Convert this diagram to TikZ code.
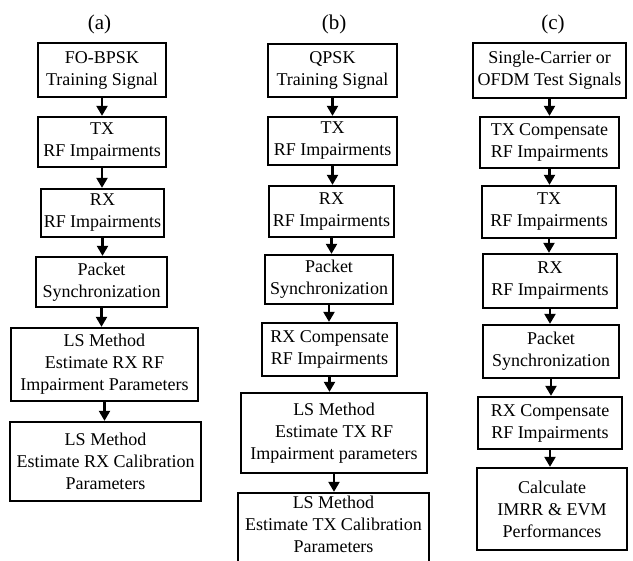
\documentclass[tikz,border=0pt]{standalone}
\usepackage{fontspec}
\setmainfont{Liberation Serif}
\usetikzlibrary{arrows.meta}
\begin{document}
\begin{tikzpicture}[x=1pt,y=-1pt,
  box/.style={draw, line width=2.3pt, align=center, inner sep=0pt, font=\fontsize{18}{22}\selectfont},
  txt/.style={align=center, inner sep=0pt, font=\fontsize{18}{22}\selectfont},
  arr/.style={line width=2.2pt, -{Triangle[width=11pt,length=10pt]}},
  lab/.style={font=\fontsize{21}{24}\selectfont}]
\clip (0,0) rectangle (633,561);
\fill[white] (0,0) rectangle (633,561);
% labels
\node[lab] (la) at (99.5,24) {(a)};
\node[lab] (lb) at (334,24) {(b)};
\node[lab] (lc) at (553,24) {(c)};
% column (a)
\node[box, minimum width=128pt, minimum height=54pt] (a1) at (102,70) {FO-BPSK\\Training Signal};
\node[box, minimum width=128pt, minimum height=50pt] (a2) at (102,142) {TX\\RF Impairments};
\node[box, minimum width=123pt, minimum height=48pt] (a3) at (102.5,213) {RX\\RF Impairments};
\node[box, minimum width=131pt, minimum height=50pt] (a4) at (101.5,282) {Packet\\Synchronization};
\node[box, minimum width=187pt, minimum height=73pt] (a5) at (104.5,364.5) {LS Method\\Estimate RX RF\\Impairment Parameters};
\node[box, minimum width=191pt, minimum height=79pt] (a6) at (105.5,461.5) {LS Method\\Estimate RX Calibration\\Parameters};
% column (b)
\node[box, minimum width=129pt, minimum height=53pt] (b1) at (332.5,70.5) {QPSK\\Training Signal};
\node[box, minimum width=129pt, minimum height=48pt] (b2) at (332.5,141) {TX\\RF Impairments};
\node[box, minimum width=125pt, minimum height=51pt] (b3) at (331.5,211.5) {RX\\RF Impairments};
\node[box, minimum width=128pt, minimum height=49pt] (b4) at (329,279.5) {Packet\\Synchronization};
\node[box, minimum width=135pt, minimum height=53pt] (b5) at (329.5,349.5) {RX Compensate\\RF Impairments};
\node[box, minimum width=186pt, minimum height=80pt] (b6) at (334,433) {LS Method\\Estimate TX RF\\Impairment parameters};
\node[box, minimum width=191pt, minimum height=87pt] (b7) at (333.5,536.5) {};
\node[txt] (b7t) at (333.5,524) {LS Method\\Estimate TX Calibration\\Parameters};
% column (c)
\node[box, minimum width=153pt, minimum height=55pt] (c1) at (549.5,70.5) {Single-Carrier or\\OFDM Test Signals};
\node[box, minimum width=139pt, minimum height=51pt] (c2) at (549.5,142.5) {TX Compensate\\RF Impairments};
\node[box, minimum width=134pt, minimum height=52pt] (c3) at (549,212) {TX\\RF Impairments};
\node[box, minimum width=134pt, minimum height=54pt] (c4) at (550,281) {RX\\RF Impairments};
\node[box, minimum width=136pt, minimum height=53pt] (c5) at (551,351.5) {Packet\\Synchronization};
\node[box, minimum width=144pt, minimum height=52pt] (c6) at (550,423) {RX Compensate\\RF Impairments};
\node[box, minimum width=150pt, minimum height=82pt] (c7) at (552,509) {Calculate\\IMRR \& EVM\\Performances};
% arrows
\foreach \p/\q in {a1/a2,a2/a3,a3/a4,a4/a5,a5/a6,
                   b1/b2,b2/b3,b3/b4,b4/b5,b5/b6,b6/b7,
                   c1/c2,c2/c3,c3/c4,c4/c5,c5/c6,c6/c7}
  \draw[arr] (\p.south) -- (\p.south |- \q.north);
\end{tikzpicture}
\end{document}
